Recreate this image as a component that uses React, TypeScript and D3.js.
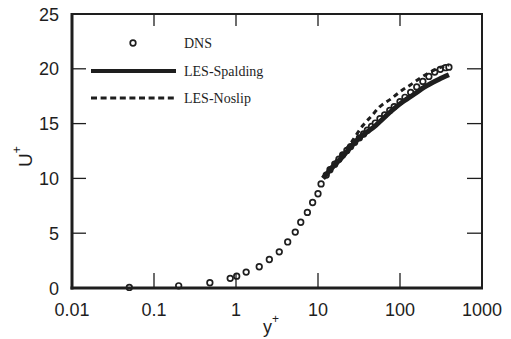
import React from "react";
import * as d3 from "d3";

// DNS profile (y+, U+)
const dnsY = [0.05, 0.2, 0.48, 0.85, 1.02, 1.33, 1.92, 2.55, 3.37, 4.27, 5.28, 6.16, 7.42, 8.6, 10, 10.9, 12.6,
  14, 16, 18, 20, 22.5, 25, 28, 32, 36, 40, 45, 50, 57, 65, 75, 85, 100, 115, 135, 160, 190, 225, 265, 310, 360, 395];
const dnsU = [0.05, 0.2, 0.48, 0.88, 1.08, 1.45, 1.94, 2.6, 3.3, 4.2, 5.1, 6.0, 6.9, 7.8, 8.6, 9.5, 10.3,
  10.8, 11.3, 11.75, 12.15, 12.55, 12.9, 13.3, 13.7, 14.05, 14.4, 14.75, 15.05, 15.45, 15.8, 16.2, 16.55, 17.0, 17.4, 17.85, 18.35, 18.85, 19.3, 19.7, 19.95, 20.1, 20.15];

// LES with Spalding wall model
const spaldingY = [11.5, 15, 20, 30, 50, 80, 100, 150, 200, 300, 395];
const spaldingU = [10.0, 11.0, 12.0, 13.5, 14.8, 16.2, 16.8, 17.7, 18.35, 19.05, 19.45];

// LES no-slip
const noslipY = [11.5, 15, 20, 25, 35, 45, 56, 79, 104, 135, 180, 240, 320, 395];
const noslipU = [10.1, 11.2, 12.3, 13.2, 14.8, 15.7, 16.5, 17.3, 18.0, 18.55, 19.2, 19.75, 20.15, 20.35];

const xTicks = [0.01, 0.1, 1, 10, 100, 1000];
const xTickLabels = ["0.01", "0.1", "1", "10", "100", "1000"];
const yTicks = [0, 5, 10, 15, 20, 25];

const W = 511;
const H = 339;

export default function App() {
  const x = d3.scaleLog().domain([0.01, 1000]).range([72, 482]);
  const y = d3.scaleLinear().domain([0, 25]).range([288, 14]);
  const [x0, x1] = x.range();
  const [y0, y1] = y.range();

  const line = d3
    .line<[number, number]>()
    .x((d) => x(d[0]))
    .y((d) => y(d[1]))
    .curve(d3.curveMonotoneX);

  const spalding = spaldingY.map((v, i) => [v, spaldingU[i]] as [number, number]);
  const noslip = noslipY.map((v, i) => [v, noslipU[i]] as [number, number]);

  const ink = "#1e1e1e";
  const sans = "'Liberation Sans', Arial, sans-serif";
  const serif = "'Liberation Serif', 'Times New Roman', serif";

  return (
    <svg width={W} height={H} style={{ position: "absolute", left: 0, top: 0, background: "#fff" }}>
      <rect width={W} height={H} fill="#fff" />

      {/* series: DNS circles under the LES lines */}
      {dnsY.map((v, i) => (
        <circle key={i} cx={x(v)} cy={y(dnsU[i])} r={2.8} fill="#fff" stroke={ink} strokeWidth={1.7} />
      ))}
      <path d={line(noslip) || ""} fill="none" stroke={ink} strokeWidth={3} strokeDasharray="5 4" />
      <path d={line(spalding) || ""} fill="none" stroke={ink} strokeWidth={5} />

      {/* frame */}
      <line x1={x0} x2={x0} y1={y1 - 1} y2={y0 + 1.5} stroke={ink} strokeWidth={3} />
      <line x1={x0 - 1.5} x2={x1 + 1} y1={y0} y2={y0} stroke={ink} strokeWidth={3} />
      <line x1={x0} x2={x1 + 1} y1={y1} y2={y1} stroke={ink} strokeWidth={2} />
      <line x1={x1} x2={x1} y1={y1} y2={y0} stroke={ink} strokeWidth={2} />

      {/* x ticks */}
      {xTicks.slice(1, -1).map((t) => (
        <g key={t}>
          <line x1={x(t)} x2={x(t)} y1={y0} y2={y0 - 15} stroke={ink} strokeWidth={1.3} />
          <line x1={x(t)} x2={x(t)} y1={y1} y2={y1 + 12} stroke={ink} strokeWidth={1.3} />
        </g>
      ))}
      {xTicks.map((t, i) => (
        <text key={t} x={x(t)} y={y0 + 28} fontFamily={sans} fontSize={18} textAnchor="middle" fill={ink}>
          {xTickLabels[i]}
        </text>
      ))}

      {/* y ticks */}
      {yTicks.slice(1, -1).map((t) => (
        <g key={t}>
          <line x1={x0} x2={x0 + 14} y1={y(t)} y2={y(t)} stroke={ink} strokeWidth={1.3} />
          <line x1={x1} x2={x1 - 15} y1={y(t)} y2={y(t)} stroke={ink} strokeWidth={1.3} />
        </g>
      ))}
      {yTicks.map((t) => (
        <text key={t} x={x0 - 13} y={y(t) + 6.5} fontFamily={sans} fontSize={18} textAnchor="end" fill={ink}>
          {t}
        </text>
      ))}

      {/* axis titles */}
      <text x={263} y={333} fontFamily={sans} fontSize={18} fill={ink}>
        y<tspan dy={-10} fontSize={12}>+</tspan>
      </text>
      <text transform="translate(32,167) rotate(-90)" fontFamily={sans} fontSize={19} fill={ink}>
        U<tspan dy={-11} fontSize={12}>+</tspan>
      </text>

      {/* legend */}
      <circle cx={133} cy={43} r={2.8} fill="#fff" stroke={ink} strokeWidth={1.7} />
      <text x={184} y={48} fontFamily={serif} fontSize={14} fill={ink}>DNS</text>
      <line x1={91} x2={176} y1={71} y2={71} stroke={ink} strokeWidth={4} />
      <text x={184} y={76} fontFamily={serif} fontSize={14} fill={ink}>LES-Spalding</text>
      <line x1={91} x2={176} y1={98} y2={98} stroke={ink} strokeWidth={3} strokeDasharray="6 3.6" />
      <text x={184} y={103} fontFamily={serif} fontSize={14} fill={ink}>LES-Noslip</text>
    </svg>
  );
}
